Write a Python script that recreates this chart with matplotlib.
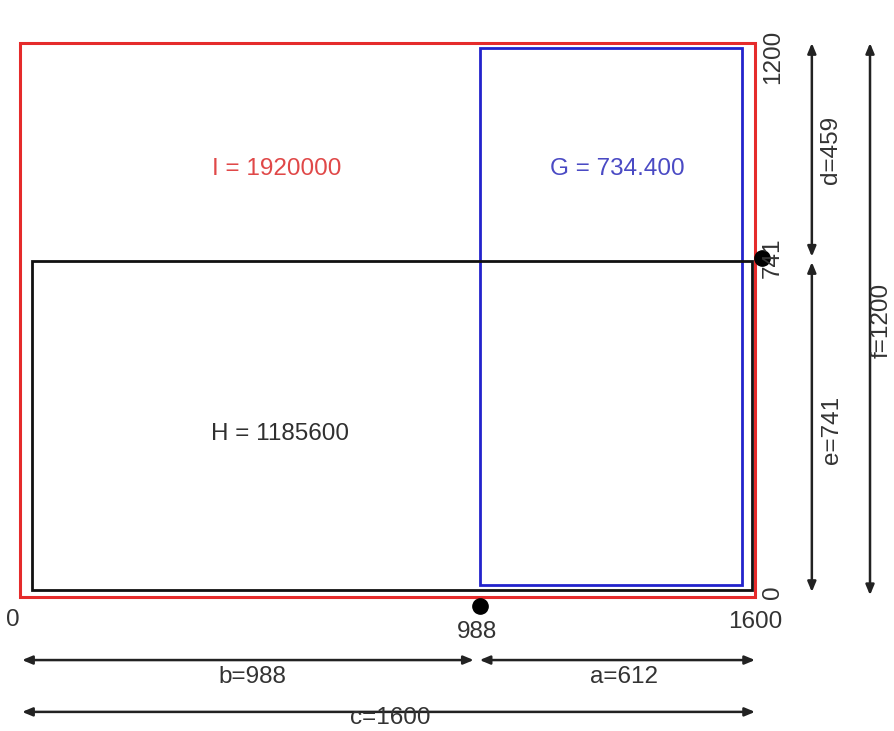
import matplotlib.pyplot as plt
from matplotlib.patches import Rectangle
from matplotlib.transforms import offset_copy

# side lengths
a = 612
b = 988
c = 1600
d = 459
e = 741
f = 1200

# areas
area_I = c * f
area_G_label = "734.400"
area_H = c * e

plt.rcParams['font.family'] = ['Liberation Sans', 'DejaVu Sans']


def main():
    fig = plt.figure(figsize=(8.95, 7.31), dpi=100)
    ax = fig.add_axes([0, 0, 1, 1])
    # pixel -> data mapping of the reference
    ax.set_xlim(-61.6, 1908)
    ax.set_ylim(-308.4, 1313.5)
    ax.axis("off")

    # rectangles (slightly inset so they don't overlap)
    ax.add_patch(Rectangle((-17, -11), c + 17, f + 29, fill=False,
                           edgecolor="#e52b2b", lw=2.2))
    ax.add_patch(Rectangle((b + 7, 15), a - 36, f - 8, fill=False,
                           edgecolor="#2323cc", lw=2))
    ax.add_patch(Rectangle((9, 4), c - 16, e - 10, fill=False,
                           edgecolor="#111111", lw=2))

    fs = 17.5
    ax.text(548, 938, "I = %d" % area_I, color="#e04848", fontsize=fs,
            ha="center", va="center")
    ax.text(1296, 938, "G = " + area_G_label, color="#4a4ac4", fontsize=fs,
            ha="center", va="center")
    ax.text(555, 351, "H = %d" % area_H, color="#303030", fontsize=fs,
            ha="center", va="center")

    # points
    ax.plot([b], [0], "o", color="black", ms=11,
            transform=offset_copy(ax.transData, fig=fig, x=3, y=-14, units="dots"))
    ax.plot([c], [e], "o", color="black", ms=11,
            transform=offset_copy(ax.transData, fig=fig, x=7, y=0, units="dots"))

    # axis value labels
    tc = "#333333"
    ax.text(-33, -62, "0", fontsize=fs, color=tc, ha="center", va="center")
    ax.text(b, -89, str(b), fontsize=fs, color=tc, ha="center", va="center")
    ax.text(c, -67, str(c), fontsize=fs, color=tc, ha="center", va="center")
    for v in [0, e, f]:
        yy = v if v != f else 1187
        ax.text(1640, yy, str(v), fontsize=fs, color=tc, rotation=90,
                ha="center", va="center")

    # dimension arrows
    ap = dict(arrowstyle="<|-|>,head_length=0.6,head_width=0.25",
              color="#222222", lw=1.8, shrinkA=0, shrinkB=0)
    ax.annotate("", xy=(-13, -151), xytext=(b - 7, -151), arrowprops=ap)
    ax.annotate("", xy=(b + 6, -151), xytext=(c, -151), arrowprops=ap)
    ax.annotate("", xy=(-13, -266), xytext=(c, -266), arrowprops=ap)
    ax.annotate("", xy=(1725, f + 18), xytext=(1725, e + 3), arrowprops=ap)
    ax.annotate("", xy=(1725, e - 9), xytext=(1725, 0), arrowprops=ap)
    ax.annotate("", xy=(1853, f + 18), xytext=(1853, -7), arrowprops=ap)

    ax.text(b / 2, -189, "b=%d" % b, fontsize=fs, color=tc, ha="center", va="center")
    ax.text(b + a / 2 + 18, -189, "a=%d" % a, fontsize=fs, color=tc, ha="center", va="center")
    ax.text(c / 2 - 3, -305, "c=%d" % c, fontsize=fs, color=tc, ha="center", va="bottom")
    ax.text(1767, e + d / 2 + 10, "d=%d" % d, fontsize=fs, color=tc, rotation=90,
            ha="center", va="center")
    ax.text(1769, e / 2 - 11, "e=%d" % e, fontsize=fs, color=tc, rotation=90,
            ha="center", va="center")
    ax.text(1879, f / 2 + 3, "f=%d" % f, fontsize=fs, color=tc, rotation=90,
            ha="center", va="center")

    fig.savefig("out.png", dpi=100)


if __name__ == "__main__":
    main()
